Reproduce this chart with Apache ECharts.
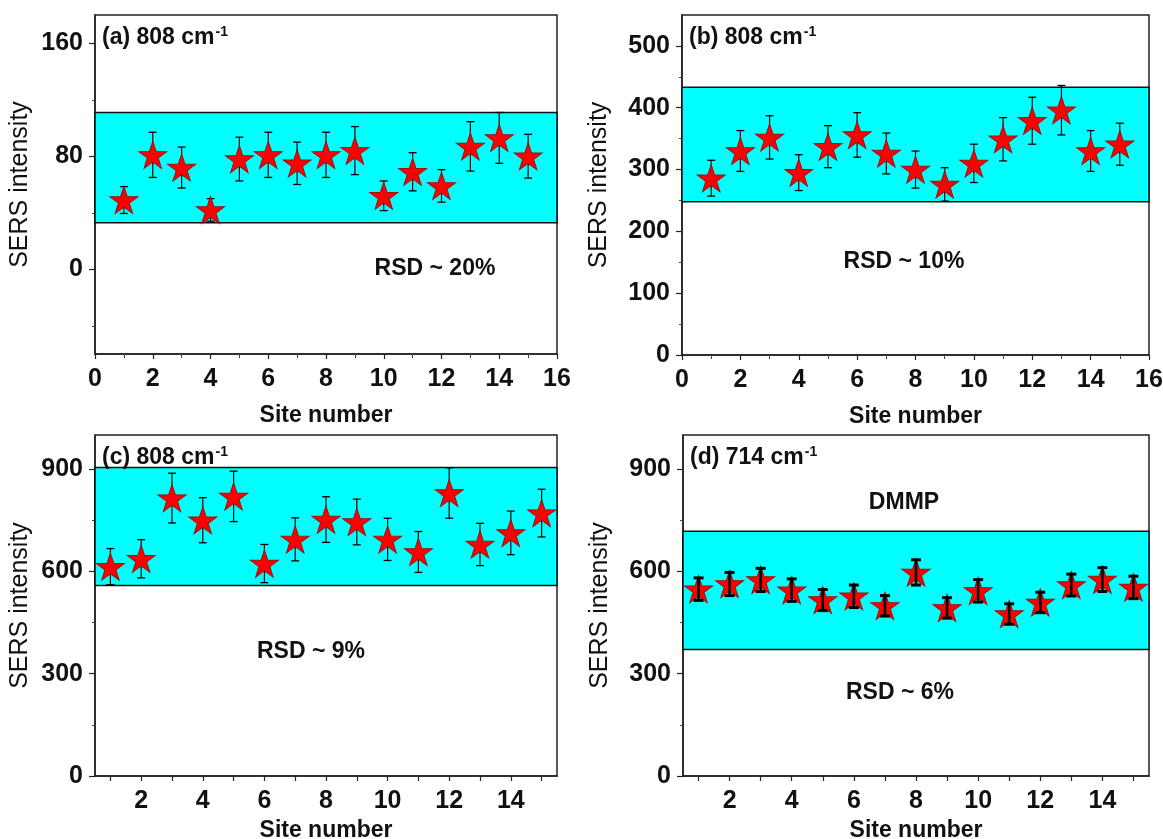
<!DOCTYPE html>
<html><head><meta charset="utf-8">
<script src="https://cdn.jsdelivr.net/npm/echarts@6/dist/echarts.min.js"></script>
<style>html,body{margin:0;padding:0;background:#fff}#c{width:1163px;height:839px}</style>
</head><body><div id="c"></div>
<script>
const sites = [1,2,3,4,5,6,7,8,9,10,11,12,13,14,15];
const aVals = [49,81,72,42,78,81,75,81,84,52,69,59,87,93,80];
const aErr  = [9.5,16,14.5,8,15.5,16,15,16,17,10.5,13.5,11.5,17.5,18,15.5];
const bVals = [286,330,352,295,337,356,326,300,276,310,349,379,396,330,341];
const bErr  = [29,33,35,29,34,36,33,30,27,31,35,38,40,33,34];
const cVals = [614,637,815,750,820,623,694,752,745,694,657,830,679,713,771];
const cErr  = [53,56,73,66,74,56,63,67,67,62,60,74,62,64,70];
const dVals = [548,563,575,545,516,527,499,597,493,543,475,509,560,576,553];
const dErr  = [33,34,34,33,31,33,30,37,30,33,30,30,32,35,33];
const aBox = [33,111], bBox = [248,433], cBox = [559,905], dBox = [371,718];
const aYTicks = [0,80,160], aYMinor = [-40,40,120];
const bYTicks = [0,100,200,300,400,500], bYMinor = [50,150,250,350,450];
const cdYTicks = [0,300,600,900], cdYMinor = [150,450,750];
const abXTicks = [0,2,4,6,8,10,12,14,16], abXMinor = [1,3,5,7,9,11,13,15];
const cdXLabels = [2,4,6,8,10,12,14], cdXTicks = [1,2,3,4,5,6,7,8,9,10,11,12,13,14,15];
const panelLabels = ['(a) 808 cm','(b) 808 cm','(c) 808 cm','(d) 714 cm'];
const rsdTexts = ['RSD ~ 20%','RSD ~ 10%','RSD ~ 9%','RSD ~ 6%'];

const FONT = '"Liberation Sans", Arial, sans-serif';
const grids = [
  {left:95, top:15, width:462, height:339},
  {left:682, top:15, width:467, height:340},
  {left:95, top:435, width:462, height:341},
  {left:683, top:435, width:466, height:341}
];
const panels = [
  {vals:aVals, err:aErr, box:aBox, ymin:-60, ymax:180, yt:aYTicks, ym:aYMinor, xmin:0, xmax:16, xl:abXTicks, xt:abXTicks, xm:abXMinor, yGap:62, xGap:50, thick:false},
  {vals:bVals, err:bErr, box:bBox, ymin:0, ymax:550, yt:bYTicks, ym:bYMinor, xmin:0, xmax:16, xl:abXTicks, xt:abXTicks, xm:abXMinor, yGap:70, xGap:50, thick:false},
  {vals:cVals, err:cErr, box:cBox, ymin:0, ymax:1000, yt:cdYTicks, ym:cdYMinor, xmin:0.5, xmax:15.5, xl:cdXLabels, xt:cdXTicks, xm:[], yGap:62, xGap:43, thick:false},
  {vals:dVals, err:dErr, box:dBox, ymin:0, ymax:1000, yt:cdYTicks, ym:cdYMinor, xmin:0.5, xmax:15.5, xl:cdXLabels, xt:cdXTicks, xm:[], yGap:70, xGap:43, thick:true}
];

const xAxis = [], yAxis = [], series = [];
const labelStyle = {fontFamily:FONT, fontWeight:'bold', fontSize:25, color:'#111'};
panels.forEach((p, i) => {
  const xi = xAxis.length, yi = yAxis.length;
  xAxis.push({type:'value', gridIndex:i, min:p.xmin, max:p.xmax, position:'bottom',
    axisLine:{show:true, onZero:false, lineStyle:{color:'#222', width:1.5}},
    axisTick:{show:true, length:5, customValues:p.xt, lineStyle:{color:'#222', width:1.2}},
    axisLabel:{customValues:p.xl, margin:13, ...labelStyle},
    splitLine:{show:false},
    name:'Site number', nameLocation:'middle', nameGap:p.xGap,
    nameTextStyle:{fontFamily:FONT, fontWeight:'bold', fontSize:23, color:'#111'}});
  xAxis.push({type:'value', gridIndex:i, min:p.xmin, max:p.xmax, position:'bottom',
    axisLine:{show:false, onZero:false}, axisTick:{show:p.xm.length>0, length:4, customValues:p.xm.length?p.xm:[p.xmin], lineStyle:{color:'#444'}},
    axisLabel:{show:false}, splitLine:{show:false}});
  yAxis.push({type:'value', gridIndex:i, min:p.ymin, max:p.ymax, position:'left',
    axisLine:{show:true, onZero:false, lineStyle:{color:'#222', width:1.5}},
    axisTick:{show:true, length:6, customValues:p.yt, lineStyle:{color:'#222', width:1.2}},
    axisLabel:{customValues:p.yt, margin:12, ...labelStyle},
    splitLine:{show:false},
    name:'SERS intensity', nameLocation:'middle', nameGap:p.yGap, nameRotate:90,
    nameTextStyle:{fontFamily:FONT, fontSize:25, color:'#111'}});
  yAxis.push({type:'value', gridIndex:i, min:p.ymin, max:p.ymax, position:'left',
    axisLine:{show:false, onZero:false}, axisTick:{show:true, length:3, customValues:p.ym, lineStyle:{color:'#444'}},
    axisLabel:{show:false}, splitLine:{show:false}});

  // cyan range box
  series.push({type:'custom', xAxisIndex:xi, yAxisIndex:yi, z:1, silent:true, clip:false,
    data:[[p.xmin, p.box[0], p.xmax, p.box[1]]],
    renderItem:(params, api) => {
      const p1 = api.coord([api.value(0), api.value(3)]);
      const p2 = api.coord([api.value(2), api.value(1)]);
      return {type:'rect', shape:{x:p1[0], y:p1[1], width:p2[0]-p1[0], height:p2[1]-p1[1]},
        style:{fill:'#00ffff', stroke:'#111', lineWidth:1.5}};
    }});
  // error bars
  const lw = p.thick ? 2.6 : 1.2, capW = p.thick ? 10 : 8, capLw = p.thick ? 3 : 1.3;
  series.push({type:'custom', xAxisIndex:xi, yAxisIndex:yi, z:p.thick?5:3, silent:true, clip:false,
    data:sites.map((s,k)=>[s, p.vals[k], p.err[k]]),
    renderItem:(params, api) => {
      const x = api.value(0), y = api.value(1), e = api.value(2);
      const t = api.coord([x, y+e]), b = api.coord([x, y-e]);
      const hw = capW/2;
      return {type:'group', children:[
        {type:'line', shape:{x1:t[0], y1:t[1], x2:b[0], y2:b[1]}, style:{stroke:'#000', lineWidth:lw}},
        {type:'line', shape:{x1:t[0]-hw, y1:t[1], x2:t[0]+hw, y2:t[1]}, style:{stroke:'#000', lineWidth:capLw}},
        {type:'line', shape:{x1:b[0]-hw, y1:b[1], x2:b[0]+hw, y2:b[1]}, style:{stroke:'#000', lineWidth:capLw}}
      ]};
    }});
  // stars
  series.push({type:'scatter', xAxisIndex:xi, yAxisIndex:yi, z:4, silent:true,
    symbol:'path://M50,0 L61.8,35.3 L98.5,35.3 L68.8,57.1 L80.2,92.7 L50,70.6 L19.8,92.7 L31.2,57.1 L1.5,35.3 L38.2,35.3 Z',
    symbolSize:[28,27],
    itemStyle:{color:'#ff0000', borderColor:'#a01010', borderWidth:1, opacity:1},
    data:sites.map((s,k)=>[s, p.vals[k]])});
});

const title = grids.map((g, i) => ({
  text:'{n|' + panelLabels[i] + '}{s|-1}', left:g.left+2, top:g.top+5,
  textStyle:{rich:{
    n:{fontFamily:FONT, fontWeight:'bold', fontSize:23, color:'#111'},
    s:{fontFamily:FONT, fontWeight:'bold', fontSize:14, color:'#111', verticalAlign:'top', padding:[0,0,12,1]}
  }}
}));

const textPos = [[435,269],[904,262],[311,652],[900,693]];
const graphic = textPos.map((pt, i) => ({type:'text', x:pt[0], y:pt[1], z:10,
  style:{text:rsdTexts[i], fontFamily:FONT, fontWeight:'bold', fontSize:23, fill:'#111', textAlign:'center', textVerticalAlign:'middle'}}));
graphic.push({type:'text', x:904, y:503, z:10,
  style:{text:'DMMP', fontFamily:FONT, fontWeight:'bold', fontSize:23, fill:'#111', textAlign:'center', textVerticalAlign:'middle'}});

const chart = echarts.init(document.getElementById('c'), null, {renderer:'canvas'});
chart.setOption({
  animation:false,
  backgroundColor:'#fff',
  grid:grids.map(g => ({...g, show:true, borderColor:'#222', borderWidth:1.5, backgroundColor:'transparent', containLabel:false, outerBoundsMode:'none'})),
  xAxis, yAxis, series, title, graphic
});
</script></body></html>
